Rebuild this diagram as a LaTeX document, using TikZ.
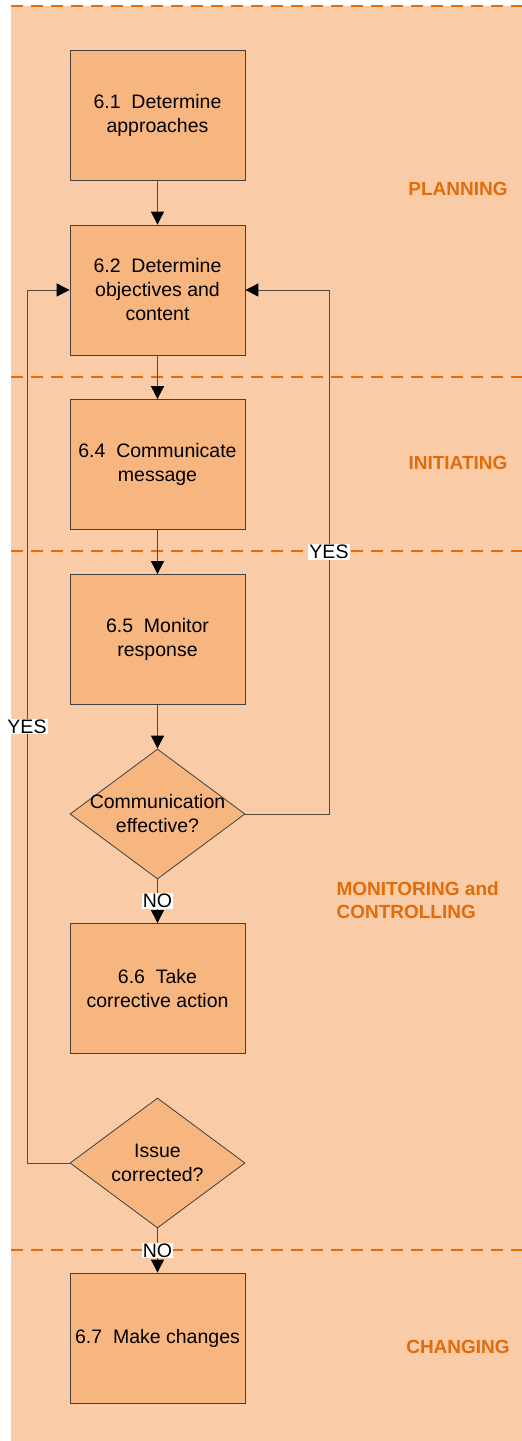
\documentclass[tikz,border=0pt]{standalone}
\usepackage{fontspec}
\setmainfont{Liberation Sans}
\usetikzlibrary{arrows.meta,shapes.geometric}
\definecolor{lanebg}{HTML}{F9CBA7}
\definecolor{boxfill}{HTML}{F7B57F}
\definecolor{laneline}{HTML}{E46C0A}
\definecolor{phasecol}{HTML}{E26B0A}
\definecolor{wire}{HTML}{5A4A3C}

\begin{document}
\begin{tikzpicture}[x=1pt,y=-1pt,
  lbl/.style={inner sep=1pt, fill=white, font=\fontsize{19.5}{21}\selectfont},
  arr/.style={draw=wire, line width=0.9pt, -{Triangle[width=13pt,length=13pt,color=black]}},
  phase/.style={text=phasecol, font=\fontsize{19}{23}\selectfont\bfseries, align=left}]
\tikzstyle{stepbox}=[draw=black!75, fill=boxfill, line width=0.8pt, minimum width=175pt, minimum height=130pt, align=center, font=\fontsize{19.5}{24}\selectfont]
\tikzstyle{decision}=[diamond, draw=black!75, fill=boxfill, line width=0.8pt, minimum width=175pt, minimum height=130pt, inner sep=0pt]
\useasboundingbox (0,0) rectangle (522,1441);
\fill[lanebg] (11,6) rectangle (522,1441);
% phase borders
\foreach \y in {6,377,551,1250}{\draw[laneline, line width=1.6pt, dash pattern=on 12pt off 8pt] (11,\y) -- (522,\y);}
\node[stepbox] (approaches) at (157.5,115){6.1\ \ Determine\\approaches};
\node[stepbox] (objectives) at (157.5,290){6.2\ \ Determine\\objectives and\\content};
\node[stepbox] (message) at (157.5,464.5){6.4\ \ Communicate\\message};
\node[stepbox] (response) at (157.5,639.5){6.5\ \ Monitor\\response};
\node[decision, label={[align=center, font=\fontsize{19.5}{24}\selectfont]center:Communication\\effective?}] (effective) at (157.5,814){};
\node[stepbox] (corrective) at (157.5,988.5){6.6\ \ Take\\corrective action};
\node[decision, label={[align=center, font=\fontsize{19.5}{24}\selectfont]center:Issue\\corrected?}] (corrected) at (157.5,1163){};
\node[stepbox] (changes) at (157.5,1338){6.7\ \ Make changes};
% loop corners
\coordinate (rbot) at (329,814);
\coordinate (rtop) at (329,290);
\coordinate (lbot) at (27,1163);
\coordinate (ltop) at (27,290);
\draw[arr] (approaches) -- (objectives);
\draw[arr] (objectives) -- (message);
\draw[arr] (message) -- (response);
\draw[arr] (response) -- (effective);
\draw[arr] (effective) -- node[lbl]{NO} (corrective);
\draw[arr] (corrected) -- node[lbl]{NO} (changes);
\draw[arr] (effective.east) -- (rbot) -- node[lbl]{YES} (rtop) -- (objectives.east);
\draw[arr] (corrected.west) -- (lbot) -- node[lbl]{YES} (ltop) -- (objectives.west);
\node[phase] (planning) at (458,189){PLANNING};
\node[phase] (initiating) at (458,463){INITIATING};
\node[phase, anchor=west] (monitoring) at (333,900){MONITORING and\\CONTROLLING};
\node[phase] (changing) at (458,1347){CHANGING};
\end{tikzpicture}
\end{document}
